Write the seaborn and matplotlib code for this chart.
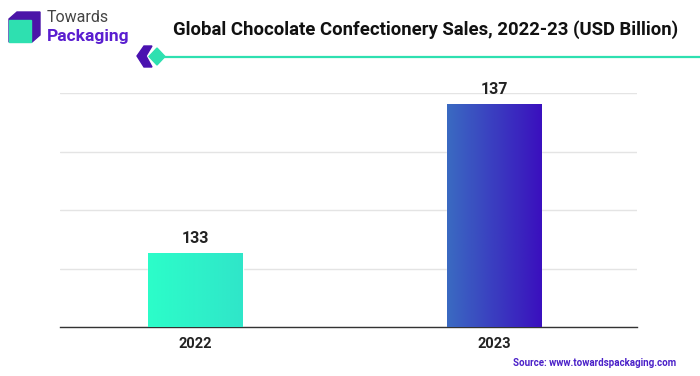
import numpy as np
import pandas as pd
import matplotlib.pyplot as plt
import seaborn as sns
from matplotlib.patches import Polygon, Rectangle

years = ["2022", "2023"]
sales = [133, 137]
grad_left = ["#2cfdc9", "#3a6ac2"]
grad_right = ["#30e6c9", "#3a10be"]

sns.set_theme(style="white")
plt.rcParams["font.family"] = ["Roboto", "DejaVu Sans"]

df = pd.DataFrame({"year": years, "sales": sales})

fig = plt.figure(figsize=(7, 3.76), dpi=100)
ax = fig.add_axes([0.0857, 0.1295, 0.8243, 0.6224])

sns.barplot(data=df, x="year", y="sales", width=0.318, color="white",
            ax=ax, zorder=2)

ymin, ymax = 131, 137.3
ax.set_ylim(ymin, ymax)
ax.set_xlim(-0.454, 1.479)
ax.set_yticks(np.linspace(ymin, ymax, 5))
ax.yaxis.grid(True, color="#e4e4e4", linewidth=1)
ax.set_axisbelow(True)
ax.tick_params(axis="y", left=False, labelleft=False)
ax.tick_params(axis="x", bottom=False, pad=1)
for lab in ax.get_xticklabels():
    lab.set_fontweight("bold")
    lab.set_fontsize(10.5)
    lab.set_color("#222222")
ax.set_xlabel("")
ax.set_ylabel("")
for s in ["top", "right", "left"]:
    ax.spines[s].set_visible(False)
ax.spines["bottom"].set_color("#333333")
ax.spines["bottom"].set_linewidth(1)

# gradient fill for each bar
for i, patch in enumerate(ax.patches):
    x0, y0 = patch.get_x(), patch.get_y()
    w, h = patch.get_width(), patch.get_height()
    c0 = np.array(plt.matplotlib.colors.to_rgb(grad_left[i]))
    c1 = np.array(plt.matplotlib.colors.to_rgb(grad_right[i]))
    t = np.linspace(0, 1, 100)[None, :, None]
    img = c0 + (c1 - c0) * t
    im = ax.imshow(img, extent=[x0, x0 + w, ymin, y0 + h], aspect="auto",
                   zorder=3, interpolation="bilinear")
    clip = Rectangle((x0, ymin), w, y0 + h - ymin, transform=ax.transData)
    im.set_clip_path(clip)
    ax.text(x0 + w / 2, sales[i] + 0.2, str(sales[i]), ha="center",
            va="bottom", fontsize=11.5, fontweight="bold", color="#222222",
            zorder=4)
ax.set_xlim(-0.454, 1.479)
ax.set_ylim(ymin, ymax)

# title and header line
fig.text(425.5 / 700, 1 - 30 / 376,
         "Global Chocolate Confectionery Sales, 2022-23 (USD Billion)",
         ha="center", va="center", fontsize=13.3, fontweight="bold",
         color="#111111")
fig.add_artist(plt.Line2D([164 / 700, 1.0], [1 - 57 / 376, 1 - 57 / 376],
                          color="#2ee0b0", linewidth=1.6))


def px(x, y):
    return (x / 700, 1 - y / 376)


fig.add_artist(Polygon([px(144, 46), px(152, 46), px(146, 56), px(152, 67),
                        px(144, 67), px(137, 56)], closed=True,
                       color="#4a12b0", transform=fig.transFigure))
fig.add_artist(Polygon([px(157, 48), px(165, 56.5), px(157, 65), px(149, 56.5)],
                       closed=True, color="#2ee0b0",
                       transform=fig.transFigure))

# logo
fig.add_artist(Polygon([px(9, 19), px(17, 12), px(40, 12), px(40, 35),
                        px(32, 42), px(9, 42)], closed=True,
                       color="#4b14a8", transform=fig.transFigure))
fig.add_artist(Polygon([px(9, 20), px(31, 20), px(31, 42), px(9, 42)],
                       closed=True, color="#2ee0b0",
                       transform=fig.transFigure))
fig.text(47 / 700, 1 - 18 / 376, "Towards", fontsize=11.5, color="#444444",
         va="center", ha="left")
fig.text(47 / 700, 1 - 36 / 376, "Packaging", fontsize=12.5,
         fontweight="bold", color="#5a1ed0", va="center", ha="left")

fig.text(676 / 700, 1 - 363 / 376, "Source: www.towardspackaging.com",
         ha="right", va="center", fontsize=7, fontweight="bold",
         color="#4a20c8")

fig.savefig("out.png", dpi=100)
